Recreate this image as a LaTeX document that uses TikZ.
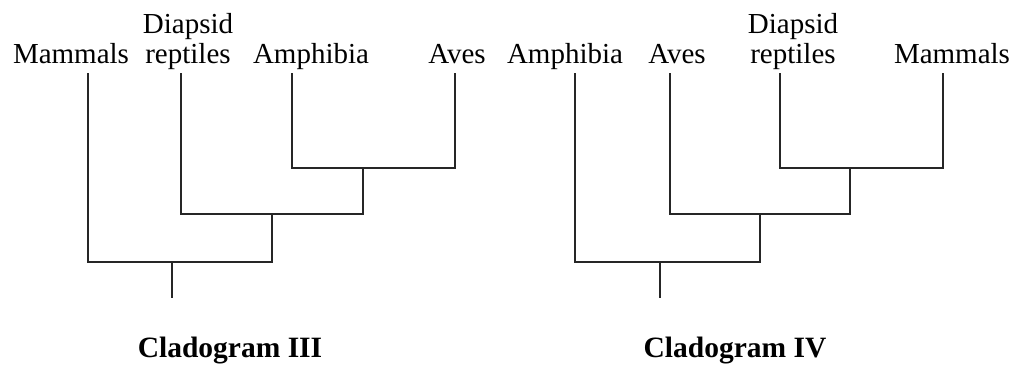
\documentclass[tikz,border=0pt]{standalone}
\usepackage{fontspec}
\setmainfont{Liberation Serif}
\begin{document}
\begin{tikzpicture}[x=1pt,y=-1pt,
  lab/.style={anchor=base,inner sep=0pt,align=center,font=\fontsize{29}{30}\selectfont},
  ttl/.style={anchor=base,inner sep=0pt,font=\fontsize{29.5}{31}\selectfont\bfseries},
  br/.style={line width=1.5pt,draw=black!85}]
\useasboundingbox (0,0) rectangle (1019,367);
% ---- Cladogram III ----
\node[lab] (l3m) at (71,63) {Mammals};
\node[lab] (l3d) at (188,63) {Diapsid\\reptiles};
\node[lab] (l3a) at (311,63) {Amphibia};
\node[lab] (l3v) at (457,63) {Aves};
\coordinate (t3m) at (88,73);
\coordinate (t3d) at (181,73);
\coordinate (t3a) at (292,73);
\coordinate (t3v) at (455,73);
\coordinate (j3a) at (363,168);
\coordinate (j3b) at (272,214);
\coordinate (j3c) at (172,262);
\coordinate (r3) at (172,298);
\draw[br] (t3a) |- (j3a) -| (t3v);
\draw[br] (t3d) |- (j3b) -| (j3a);
\draw[br] (t3m) |- (j3c) -| (j3b);
\draw[br] (j3c) -- (r3);
\node[ttl] (c3) at (230,357) {Cladogram III};
% ---- Cladogram IV ----
\node[lab] (l4a) at (565,63) {Amphibia};
\node[lab] (l4v) at (677,63) {Aves};
\node[lab] (l4d) at (793,63) {Diapsid\\reptiles};
\node[lab] (l4m) at (952,63) {Mammals};
\coordinate (t4a) at (575,73);
\coordinate (t4v) at (670,73);
\coordinate (t4d) at (780,73);
\coordinate (t4m) at (943,73);
\coordinate (j4a) at (850,168);
\coordinate (j4b) at (760,214);
\coordinate (j4c) at (660,262);
\coordinate (r4) at (660,298);
\draw[br] (t4d) |- (j4a) -| (t4m);
\draw[br] (t4v) |- (j4b) -| (j4a);
\draw[br] (t4a) |- (j4c) -| (j4b);
\draw[br] (j4c) -- (r4);
\node[ttl] (c4) at (735,357) {Cladogram IV};
\end{tikzpicture}
\end{document}
